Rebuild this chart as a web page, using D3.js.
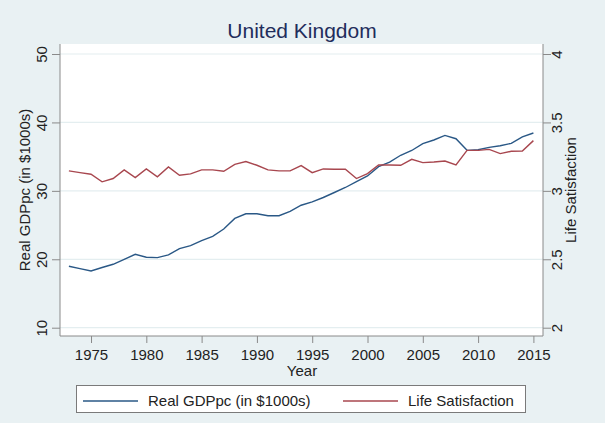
<!DOCTYPE html>
<html>
<head>
<meta charset="utf-8">
<script src="https://cdn.jsdelivr.net/npm/d3@7"></script>
<style>
  body { margin: 0; background: #e9f1f3; }
  svg { display: block; font-family: "Liberation Sans", Arial, sans-serif; }
</style>
</head>
<body>
<svg></svg>
<script>
let years = d3.range(1973, 2016);

let gdp = [18.98, 18.64, 18.3, 18.8, 19.27, 20.0, 20.73, 20.3, 20.24, 20.63,
    21.55, 21.99, 22.72, 23.35, 24.42, 25.97, 26.65, 26.65, 26.36, 26.36,
    26.99, 27.9, 28.4, 29.03, 29.76, 30.49, 31.36, 32.18, 33.54, 34.2,
    35.2, 35.9, 36.9, 37.43, 38.1, 37.62, 35.92, 36.0, 36.36, 36.6,
    36.94, 37.9, 38.45];

let lifeSat = [3.146, 3.133, 3.121, 3.066, 3.09, 3.153, 3.097, 3.16, 3.102, 3.175,
    3.114, 3.124, 3.153, 3.153, 3.143, 3.194, 3.214, 3.187, 3.153, 3.146,
    3.146, 3.184, 3.133, 3.16, 3.158, 3.158, 3.09, 3.126, 3.189, 3.189,
    3.187, 3.23, 3.206, 3.211, 3.218, 3.189, 3.296, 3.296, 3.303, 3.272,
    3.289, 3.291, 3.367];

let xTicks = [1975, 1980, 1985, 1990, 1995, 2000, 2005, 2010, 2015];
let leftTicks = [10, 20, 30, 40, 50];
let rightTicks = [2, 2.5, 3, 3.5, 4];

let width = 605;
let height = 423;
let plot = {left: 60, right: 543, top: 44, bottom: 336};
let blue = "#2a5886";
let red = "#a8474f";
let axisColor = "#8a8a8a";
let fontSize = 15;

let svg = d3.select("svg")
            .attr("width", width)
            .attr("height", height);

svg.append("rect")
    .attr("width", width)
    .attr("height", height)
    .attr("fill", "#e9f1f3");

let x = d3.scaleLinear().domain([1973, 2015]).range([68.9, 533.4]);
let yLeft = d3.scaleLinear().domain([10, 50]).range([327.7, 54]);
let yRight = d3.scaleLinear().domain([2, 4]).range([327.7, 54]);

// plot region
svg.append("rect")
    .attr("x", plot.left)
    .attr("y", plot.top)
    .attr("width", plot.right - plot.left)
    .attr("height", plot.bottom - plot.top)
    .attr("fill", "#ffffff");

svg.append("g")
    .selectAll("line")
    .data(leftTicks)
    .enter()
    .append("line")
    .attr("x1", plot.left)
    .attr("x2", plot.right)
    .attr("y1", d => yLeft(d))
    .attr("y2", d => yLeft(d))
    .attr("stroke", "#e4eef0")
    .attr("stroke-width", 1.2);

// title
svg.append("text")
    .attr("x", 302)
    .attr("y", 38)
    .attr("text-anchor", "middle")
    .attr("font-size", 21)
    .attr("fill", "#1f2d5c")
    .text("United Kingdom");

// x axis
let xAxis = svg.append("g")
    .attr("transform", `translate(0, ${plot.bottom})`)
    .call(d3.axisBottom(x).tickValues(xTicks).tickSize(7).tickPadding(6).tickFormat(d3.format("d")));
xAxis.select(".domain").remove();
xAxis.selectAll("line").attr("stroke", axisColor);
xAxis.selectAll("text").attr("font-size", fontSize).attr("fill", "#222").attr("font-family", null);

svg.append("line")
    .attr("x1", plot.left).attr("x2", plot.right)
    .attr("y1", plot.bottom).attr("y2", plot.bottom)
    .attr("stroke", axisColor);

svg.append("text")
    .attr("x", 302)
    .attr("y", 376)
    .attr("text-anchor", "middle")
    .attr("font-size", fontSize)
    .attr("fill", "#222")
    .text("Year");

// left axis
let leftAxis = svg.append("g")
    .attr("transform", `translate(${plot.left}, 0)`)
    .call(d3.axisLeft(yLeft).tickValues(leftTicks).tickSize(8));
leftAxis.select(".domain").remove();
leftAxis.selectAll("line").attr("stroke", axisColor);
leftAxis.selectAll("text")
    .attr("font-size", fontSize)
    .attr("fill", "#222")
    .attr("font-family", null)
    .attr("x", null)
    .attr("dy", null)
    .attr("text-anchor", "middle")
    .attr("transform", "translate(-13, 0) rotate(-90)");

svg.append("line")
    .attr("x1", plot.left).attr("x2", plot.left)
    .attr("y1", plot.top).attr("y2", plot.bottom)
    .attr("stroke", axisColor);

svg.append("text")
    .attr("transform", "translate(30, 190) rotate(-90)")
    .attr("text-anchor", "middle")
    .attr("font-size", fontSize)
    .attr("fill", "#222")
    .text("Real GDPpc (in $1000s)");

// right axis
let rightAxis = svg.append("g")
    .attr("transform", `translate(${plot.right}, 0)`)
    .call(d3.axisRight(yRight).tickValues(rightTicks).tickSize(8).tickFormat(d3.format("")));
rightAxis.select(".domain").remove();
rightAxis.selectAll("line").attr("stroke", axisColor);
rightAxis.selectAll("text")
    .attr("font-size", fontSize)
    .attr("fill", "#222")
    .attr("font-family", null)
    .attr("x", null)
    .attr("dy", null)
    .attr("text-anchor", "middle")
    .attr("transform", "translate(19, 0) rotate(-90)");

svg.append("line")
    .attr("x1", plot.right).attr("x2", plot.right)
    .attr("y1", plot.top).attr("y2", plot.bottom)
    .attr("stroke", axisColor);

svg.append("text")
    .attr("transform", "translate(576, 190) rotate(-90)")
    .attr("text-anchor", "middle")
    .attr("font-size", fontSize)
    .attr("fill", "#222")
    .text("Life Satisfaction");

// lines
let gdpLine = d3.line()
    .x((d, i) => x(years[i]))
    .y(d => yLeft(d));

let lsLine = d3.line()
    .x((d, i) => x(years[i]))
    .y(d => yRight(d));

svg.append("path")
    .datum(gdp)
    .attr("d", gdpLine)
    .attr("fill", "none")
    .attr("stroke", blue)
    .attr("stroke-width", 1.4);

svg.append("path")
    .datum(lifeSat)
    .attr("d", lsLine)
    .attr("fill", "none")
    .attr("stroke", red)
    .attr("stroke-width", 1.4);

// legend
let legend = svg.append("g").attr("id", "legend");

legend.append("rect")
    .attr("x", 76.5)
    .attr("y", 385.5)
    .attr("width", 449)
    .attr("height", 27)
    .attr("fill", "#ffffff")
    .attr("stroke", "#7a7a7a");

let legendItems = [
    {label: "Real GDPpc (in $1000s)", color: blue, x: 83},
    {label: "Life Satisfaction", color: red, x: 343}
];

legend.selectAll(".item-line")
    .data(legendItems)
    .enter()
    .append("line")
    .attr("class", "item-line")
    .attr("x1", d => d.x)
    .attr("x2", d => d.x + 55)
    .attr("y1", 401)
    .attr("y2", 401)
    .attr("stroke", d => d.color)
    .attr("stroke-width", 1.4);

legend.selectAll(".item-text")
    .data(legendItems)
    .enter()
    .append("text")
    .attr("class", "item-text")
    .attr("x", d => d.x + 65)
    .attr("y", 406)
    .attr("font-size", fontSize)
    .attr("fill", "#222")
    .text(d => d.label);
</script>
</body>
</html>
